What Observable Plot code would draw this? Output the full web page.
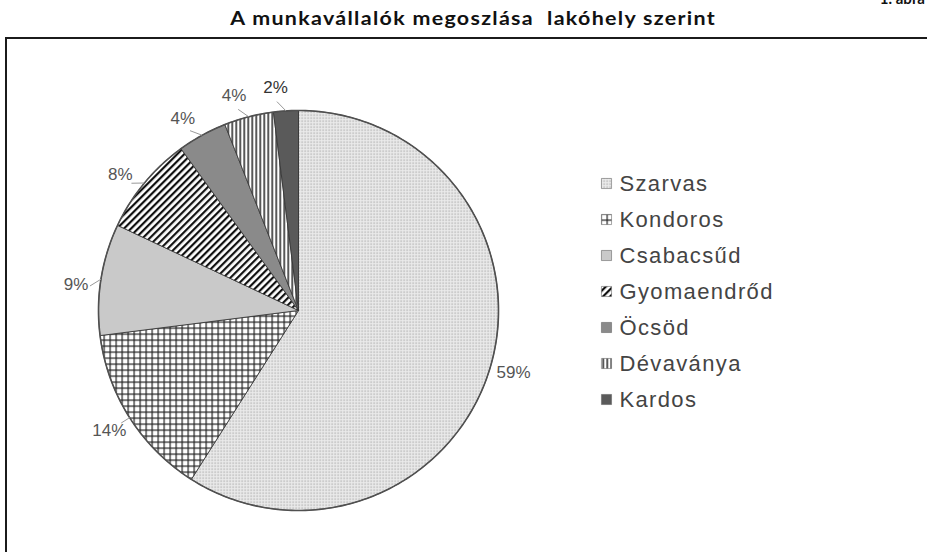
<!DOCTYPE html>
<html><head><meta charset="utf-8">
<script src="https://cdn.jsdelivr.net/npm/d3@7"></script>
<script src="https://cdn.jsdelivr.net/npm/@observablehq/plot@0.6"></script>
<style>
html,body{margin:0;padding:0;background:#fff;}
#page{position:relative;width:927px;height:552px;overflow:hidden;}
#title{height:37px;line-height:37px;text-align:center;white-space:pre;padding-left:20px;box-sizing:border-box;}
#title span{display:inline-block;font-family:Lato,"Open Sans",sans-serif;font-weight:700;font-size:18px;color:#111;letter-spacing:1.1px;transform:scaleX(1.19);}
#corner{position:absolute;right:2px;top:-11px;font-family:Lato,sans-serif;font-weight:700;font-size:15px;color:#111;}
#frame{margin-left:5px;border-left:2px solid #1b1b1b;border-top:2px solid #1b1b1b;height:513px;}
#frame svg{display:block}
g[text-anchor="start"] text{letter-spacing:1.35px}
</style></head><body>
<svg width="0" height="0" style="position:absolute"><defs>
<pattern id="pat0" patternUnits="userSpaceOnUse" width="3" height="3"><rect width="3" height="3" fill="#ececec"/><rect width="1.3" height="1.3" fill="#a0a0a0"/></pattern>
<pattern id="pat1" patternUnits="userSpaceOnUse" width="6" height="6"><rect width="6" height="6" fill="#fff"/><rect width="1.2" height="6" fill="#222"/><rect width="6" height="1.2" fill="#222"/></pattern>
<pattern id="pat2" patternUnits="userSpaceOnUse" width="4" height="4"><rect width="4" height="4" fill="#c9c9c9"/></pattern>
<pattern id="pat3" patternUnits="userSpaceOnUse" width="5" height="5" patternTransform="rotate(45)"><rect width="5" height="5" fill="#fff"/><rect width="2.2" height="5" fill="#111"/></pattern>
<pattern id="pat4" patternUnits="userSpaceOnUse" width="4" height="4"><rect width="4" height="4" fill="#8a8a8a"/></pattern>
<pattern id="pat5" patternUnits="userSpaceOnUse" width="4" height="4"><rect width="4" height="4" fill="#fff"/><rect width="1.4" height="4" fill="#111"/></pattern>
<pattern id="pat6" patternUnits="userSpaceOnUse" width="4" height="4"><rect width="4" height="4" fill="#5a5a5a"/></pattern>
</defs></svg>
<div id="page"><div id="corner">1. ábra</div><div id="title"><span>A munkavállalók megoszlása  lakóhely szerint</span></div><div id="frame"></div></div>
<script>
const categories = ["Szarvas","Kondoros","Csabacsűd","Gyomaendrőd","Öcsöd","Dévaványa","Kardos"];
const shares = [59,14,9,8,4,4,2];
const valueLabels = ["59%","14%","9%","8%","4%","4%","2%"];

const W = 920, H = 513, R = 200, CX = 291, CY = 271;
const pie = d3.pie().sort(null)(shares);

const slicePts = [];
pie.forEach((p, i) => {
  const n = Math.max(2, Math.ceil((p.endAngle - p.startAngle) / (Math.PI / 180)));
  slicePts.push({name: categories[i], x: 0, y: 0});
  for (let k = 0; k <= n; k++) {
    const a = p.startAngle + (p.endAngle - p.startAngle) * k / n;
    slicePts.push({name: categories[i], x: Math.sin(a), y: Math.cos(a)});
  }
  slicePts.push({name: categories[i], x: 0, y: 0});
});
const circlePts = d3.range(0, 361).map(d => ({x: Math.sin(d * Math.PI / 180), y: Math.cos(d * Math.PI / 180)}));

// label angle: mid-angle, nudged counter-clockwise in the upper-left quadrant (as the chart's labels sit)
const labelData = pie.map((p, i) => {
  const mid = (p.startAngle + p.endAngle) / 2;
  const la = mid > 1.5 * Math.PI ? mid - 2.3 * Math.PI / 180 : mid;
  return {name: categories[i], text: valueLabels[i], mid, la};
});

const legendY = (d, i) => 0.635 - 0.18 * i;

const chart = Plot.plot({
  width: W, height: H,
  margin: 0,
  x: {domain: [-CX / R, (W - CX) / R], range: [0, W], axis: null},
  y: {domain: [CY / R, -(H - CY) / R], range: [0, H], axis: null},
  color: {type: "ordinal", domain: categories, range: categories.map((_, i) => `url(#pat${i})`)},
  style: {fontFamily: "'Liberation Sans', Arial, sans-serif", background: "transparent"},
  marks: [
    Plot.line(slicePts, {x: "x", y: "y", z: "name", fill: "name", stroke: "#333", strokeWidth: 0.8, strokeLinejoin: "round"}),
    Plot.line(circlePts, {x: "x", y: "y", stroke: "#505050", strokeWidth: 1.6}),
    Plot.link(labelData.filter(d => d.name !== "Szarvas"), {
      x1: d => 1.0 * Math.sin(d.mid), y1: d => 1.0 * Math.cos(d.mid),
      x2: d => 1.05 * Math.sin(d.la), y2: d => 1.05 * Math.cos(d.la),
      stroke: "#999", strokeWidth: 1
    }),
    Plot.text(labelData, {
      x: d => 1.12 * Math.sin(d.la), y: d => 1.12 * Math.cos(d.la),
      text: "text", fontSize: 17,
      fill: d => d.name === "Kardos" ? "#333" : "#555",
      fontWeight: d => d.name === "Kardos" ? "bold" : "normal"
    }),
    Plot.dot(categories, {x: () => 1.54, y: legendY, symbol: "square", r: 5.7, fill: d => d, stroke: "#666", strokeWidth: 0.6}),
    Plot.text(categories, {x: () => 1.605, y: legendY, text: d => d, textAnchor: "start", fontSize: 22, fill: "#444"})
  ]
});
document.getElementById("frame").appendChild(chart);
</script>
</body></html>
